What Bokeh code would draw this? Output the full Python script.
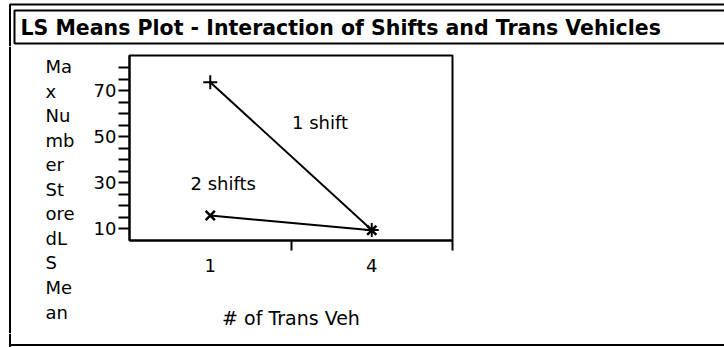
from bokeh.plotting import figure
from bokeh.layouts import column, row
from bokeh.models import Range1d, FixedTicker, Label, BoxAnnotation, Span
from bokeh.embed import file_html
from bokeh.resources import INLINE

# ---- data ----
trans_veh_levels = ["1", "4"]          # x categories
level_pos = [0.5, 1.5]                 # category centres on the axis
one_shift = [73.6, 9.6]                # LS means, 1 shift
two_shifts = [15.8, 9.4]               # LS means, 2 shifts
y_major = [10, 30, 50, 70]
y_minor = [15, 20, 25, 35, 40, 45, 55, 60, 65, 75, 80]
x_bounds = [1, 2]                      # ticks between categories
title_text = "LS Means Plot - Interaction of Shifts and Trans Vehicles"
y_label_parts = ["Ma", "x", "Nu", "mb", "er", "St", "ore", "dL", "S", "Me", "an"]
x_label = "# of Trans Veh"

FONT = "DejaVu Sans"
W = 724
TITLE_H = 46
MID_H = 287
BOT_H = 14
LEFT_W = 88


def blank(width, height):
    f = figure(width=width, height=height, output_backend="svg", toolbar_location=None,
               x_axis_type=None, y_axis_type=None,
               x_range=Range1d(0, width), y_range=Range1d(0, height),
               min_border=0, min_border_left=0, min_border_right=0,
               min_border_top=0, min_border_bottom=0, frame_align=False)
    f.outline_line_color = None
    f.background_fill_color = "white"
    f.border_fill_color = "white"
    f.xgrid.grid_line_color = None
    f.ygrid.grid_line_color = None
    return f


def frame_box(left, right, top, bottom, h):
    # top/bottom given from the top of the strip
    return BoxAnnotation(left=left, right=right, top=h - top, bottom=h - bottom,
                         fill_color=None, fill_alpha=0, line_color="black",
                         line_width=2, line_alpha=1)


# ---- title strip ----
t = blank(W, TITLE_H)
t.add_layout(frame_box(9.5, 900, 4, 400, TITLE_H))
t.add_layout(frame_box(14, 900, 10, 43, TITLE_H))
t.add_layout(Label(x=20, y=TITLE_H - 27, text=title_text, text_baseline="middle",
                   text_font=FONT, text_font_size="20.5px", text_font_style="bold",
                   text_color="black"))

# ---- y label column ----
yl = blank(LEFT_W, MID_H)
yl.add_layout(Span(location=9.5, dimension="height", line_color="black", line_width=2))
for i, part in enumerate(y_label_parts):
    yl.add_layout(Label(x=45, y=MID_H - (66 + 24.56 * i - TITLE_H), text=part,
                        text_baseline="middle", text_font=FONT, text_font_size="18px",
                        text_color="black"))

# ---- main chart ----
p = figure(width=W - LEFT_W, height=MID_H, output_backend="svg", toolbar_location=None,
           x_range=Range1d(0, 2), y_range=Range1d(5, 85.2), frame_align=False,
           min_border_left=129 - LEFT_W, min_border_right=W - 452,
           min_border_top=55 - TITLE_H, min_border_bottom=TITLE_H + MID_H - 240)
p.background_fill_color = "white"
p.border_fill_color = "white"
p.outline_line_color = "black"
p.outline_line_width = 2
p.xgrid.grid_line_color = None
p.ygrid.grid_line_color = None

xa = p.xaxis[0]
xa.ticker = FixedTicker(ticks=level_pos, minor_ticks=x_bounds)
xa.major_label_overrides = {level_pos[i]: trans_veh_levels[i] for i in range(2)}
xa.major_tick_line_color = None
xa.major_tick_out = 10
xa.minor_tick_in = 0
xa.minor_tick_out = 10
xa.minor_tick_line_width = 2
xa.minor_tick_line_color = "black"
xa.axis_line_width = 2
xa.major_label_standoff = 8
xa.major_label_text_font = FONT
xa.major_label_text_font_size = "18px"
xa.major_label_text_color = "black"
xa.axis_label = x_label
xa.axis_label_text_font = FONT
xa.axis_label_text_font_size = "19px"
xa.axis_label_text_font_style = "normal"
xa.axis_label_text_color = "black"
xa.axis_label_standoff = 32

ya = p.yaxis[0]
ya.ticker = FixedTicker(ticks=y_major, minor_ticks=y_minor)
ya.major_tick_in = 0
ya.major_tick_out = 11
ya.minor_tick_in = 0
ya.minor_tick_out = 11
ya.major_tick_line_width = 2
ya.minor_tick_line_width = 2
ya.minor_tick_line_color = "black"
ya.axis_line_width = 2
ya.major_label_standoff = 2
ya.major_label_text_font = FONT
ya.major_label_text_font_size = "18px"
ya.major_label_text_color = "black"

p.line(level_pos, one_shift, line_color="black", line_width=2)
p.line(level_pos, two_shifts, line_color="black", line_width=2)
p.scatter(level_pos, one_shift, marker="cross", size=14, line_color="black", line_width=2)
p.scatter(level_pos, two_shifts, marker="x", size=13, line_color="black", line_width=2.5)

p.add_layout(Label(x=1.18, y=56.1, text="1 shift", text_align="center",
                   text_baseline="middle", text_font=FONT, text_font_size="18px",
                   text_color="black"))
p.add_layout(Label(x=0.58, y=29.7, text="2 shifts", text_align="center",
                   text_baseline="middle", text_font=FONT, text_font_size="18px",
                   text_color="black"))

# ---- bottom strip (outer frame bottom edge) ----
b = blank(W, BOT_H)
bottom_local = 344.5 - (TITLE_H + MID_H)   # distance from top of strip
b.add_layout(Span(location=9.5, dimension="height", line_color="black", line_width=2))
b.add_layout(BoxAnnotation(left=9.5, right=900, bottom=BOT_H - bottom_local - 1,
                           top=BOT_H - bottom_local + 1, fill_color="black",
                           fill_alpha=1, line_color=None))

layout = column(t, row(yl, p, spacing=0), b, spacing=0)

open("out.html", "w").write(file_html(layout, INLINE))
